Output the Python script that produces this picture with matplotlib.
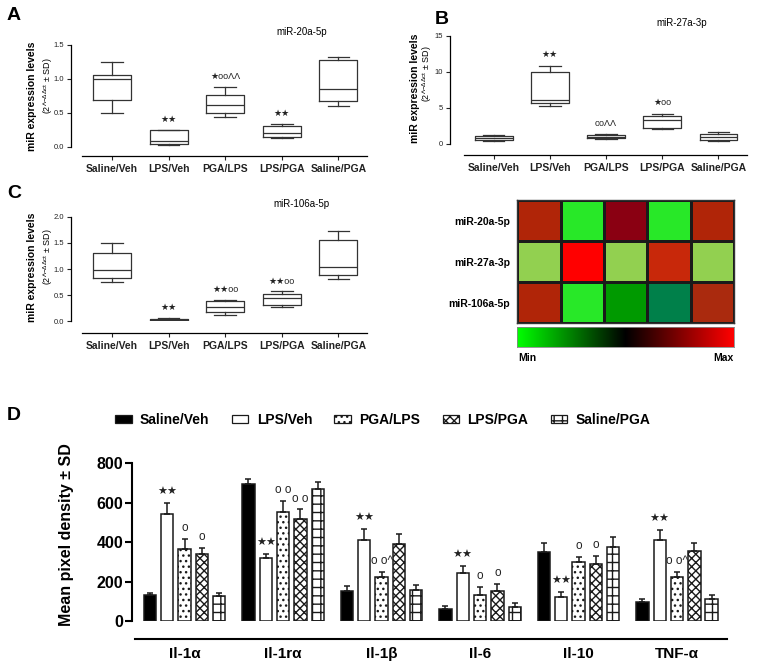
import numpy as np
import matplotlib.pyplot as plt
from matplotlib.colors import ListedColormap, LinearSegmentedColormap
from matplotlib.patches import Patch

plt.rcParams['font.family'] = ['Liberation Sans', 'DejaVu Sans']
plt.rcParams['mathtext.fontset'] = 'custom'
plt.rcParams['mathtext.rm'] = 'Liberation Sans'
plt.rcParams['mathtext.it'] = 'Liberation Sans'
plt.rcParams['hatch.linewidth'] = 1.0

# Grupos experimentais
grupos = ['Saline/Veh', 'LPS/Veh', 'PGA/LPS', 'LPS/PGA', 'Saline/PGA']

# miR-20a-5p (min, q1, mediana, q3, max)
mir20_min = [0.50, 0.02, 0.44, 0.13, 0.60]
mir20_q1 = [0.69, 0.04, 0.50, 0.15, 0.67]
mir20_med = [1.00, 0.08, 0.62, 0.20, 0.85]
mir20_q3 = [1.06, 0.24, 0.76, 0.30, 1.28]
mir20_max = [1.25, 0.25, 0.88, 0.34, 1.32]
mir20_sig = ['', '★★', '★ooΛΛ', '★★', '']

# miR-27a-3p
mir27_min = [0.45, 5.3, 0.65, 2.1, 0.45]
mir27_q1 = [0.55, 5.7, 0.80, 2.25, 0.50]
mir27_med = [0.85, 6.1, 0.97, 3.35, 1.00]
mir27_q3 = [1.15, 10.0, 1.20, 3.90, 1.40]
mir27_max = [1.25, 10.85, 1.40, 4.20, 1.70]
mir27_sig = ['', '★★', 'ooΛΛ', '★oo', '']

# miR-106a-5p
mir106_min = [0.75, 0.005, 0.13, 0.27, 0.80]
mir106_q1 = [0.83, 0.01, 0.17, 0.32, 0.89]
mir106_med = [0.99, 0.025, 0.27, 0.44, 1.03]
mir106_q3 = [1.31, 0.05, 0.38, 0.52, 1.55]
mir106_max = [1.50, 0.06, 0.41, 0.57, 1.73]
mir106_sig = ['', '★★', '★★oo', '★★oo', '']

# Heatmap (cores)
mirs = ['miR-20a-5p', 'miR-27a-3p', 'miR-106a-5p']
heat_cells = [
    ['#B02508', '#28E828', '#8A0012', '#28E828', '#B02508'],
    ['#92D050', '#FF0000', '#92D050', '#C8280A', '#92D050'],
    ['#B02508', '#28E828', '#009A00', '#00804A', '#AA2A0E'],
]

# Painel D - citocinas (media e SD)
citocinas = ['Il-1α', 'Il-1rα', 'Il-1β', 'Il-6', 'Il-10', 'TNF-α']
sal_veh = [130, 693, 150, 59, 352, 95]
sal_veh_sd = [10, 26, 26, 19, 42, 17]
lps_veh = [541, 318, 411, 245, 122, 411]
lps_veh_sd = [59, 24, 56, 34, 25, 51]
pga_lps = [365, 551, 225, 134, 301, 223]
pga_lps_sd = [51, 59, 24, 40, 22, 24]
lps_pga = [338, 517, 391, 150, 289, 355]
lps_pga_sd = [31, 49, 49, 36, 41, 39]
sal_pga = [128, 670, 156, 71, 374, 110]
sal_pga_sd = [16, 37, 28, 19, 54, 20]
sal_veh_sig = ['', '', '', '', '', '']
lps_veh_sig = ['★★', '★★', '★★', '★★', '★★', '★★']
pga_lps_sig = ['o', 'o o', 'o o^', 'o', 'o', 'o o^']
lps_pga_sig = ['o', 'o o', '', 'o', 'o', '']
sal_pga_sig = ['', '', '', '', '', '']

W, H = 760, 669
fig = plt.figure(figsize=(W / 100, H / 100), dpi=100)


def px_axes(x0, x1, y0, y1):
    # retangulo em pixels (topo = y0)
    return fig.add_axes([x0 / W, 1 - y1 / H, (x1 - x0) / W, (y1 - y0) / H])


def caixas(ax, mn, q1, med, q3, mx, sig, yticks, fmt, xl, xb, off, titulo):
    # spine deslocada primeiro (set_position apaga o estilo dos ticks)
    for s in ['top', 'right']:
        ax.spines[s].set_visible(False)
    ax.spines['left'].set_linewidth(0.9)
    ax.spines['bottom'].set_linewidth(0.9)
    ax.spines['bottom'].set_position(('outward', off))
    stats = [dict(whislo=a, q1=b, med=c, q3=d, whishi=e, fliers=[])
             for a, b, c, d, e in zip(mn, q1, med, q3, mx)]
    pos = np.arange(1, 6)
    lp = dict(color='#333333', lw=0.9)
    ax.bxp(stats, positions=pos, widths=0.67, capwidths=0.38, showfliers=False,
           boxprops=lp, whiskerprops=lp, capprops=lp, medianprops=lp,
           manage_ticks=False)
    ymax = yticks[-1]
    for p, m, s in zip(pos, mx, sig):
        if s:
            ax.text(p, m + 0.1 * ymax, s, ha='center', va='center', fontsize=6.5, color='#222222')
    ax.set_ylim(0, ymax)
    ax.set_xlim(xl, 5.505)
    ax.spines['bottom'].set_bounds(xb, 5.505)
    ax.set_yticks(yticks)
    ax.set_yticklabels([fmt.format(v) for v in yticks], fontsize=5.5)
    ax.set_xticks(pos)
    ax.set_xticklabels(grupos, fontsize=7.5, fontweight='bold')
    ax.tick_params(length=3, width=0.8, pad=2, colors='#222222')
    ax.tick_params(axis='x', pad=3)
    ax.text(0.78, 1.12, titulo, transform=ax.transAxes, ha='center', va='center', fontsize=7)


ylab1 = 'miR expression levels'
ylab2 = r'(2^$^{-\Delta\Delta ct}$ ± SD)'

# Painel A
axA = px_axes(71, 367, 44.7, 146.7)
caixas(axA, mir20_min, mir20_q1, mir20_med, mir20_q3, mir20_max, mir20_sig,
       [0, 0.5, 1.0, 1.5], '{:.1f}', 0.276, 0.47, 6.5, 'miR-20a-5p')
fig.text(32 / W, 1 - 96 / H, ylab1, rotation=90, ha='center', va='center', fontsize=7.5, fontweight='bold')
fig.text(48 / W, 1 - 86 / H, ylab2, rotation=90, ha='center', va='center', fontsize=6.5)

# Painel B
axB = px_axes(450, 746.7, 35.7, 144)
caixas(axB, mir27_min, mir27_q1, mir27_med, mir27_q3, mir27_max, mir27_sig,
       [0, 5, 10, 15], '{:d}', 0.221, 0.474, 8, 'miR-27a-3p')
fig.text(415 / W, 1 - 88 / H, ylab1, rotation=90, ha='center', va='center', fontsize=7.5, fontweight='bold')
fig.text(427.5 / W, 1 - 74 / H, ylab2, rotation=90, ha='center', va='center', fontsize=6.5)

# Painel C
axC = px_axes(71, 367, 216.7, 321.3)
caixas(axC, mir106_min, mir106_q1, mir106_med, mir106_q3, mir106_max, mir106_sig,
       [0, 0.5, 1.0, 1.5, 2.0], '{:.1f}', 0.276, 0.47, 8.2, 'miR-106a-5p')
fig.text(32 / W, 1 - 267 / H, ylab1, rotation=90, ha='center', va='center', fontsize=7.5, fontweight='bold')
fig.text(48 / W, 1 - 257 / H, ylab2, rotation=90, ha='center', va='center', fontsize=6.5)

# Heatmap
axH = px_axes(517.3, 734, 200, 323.3)
paleta = sorted(set(c for linha in heat_cells for c in linha))
idx = np.array([[paleta.index(c) for c in linha] for linha in heat_cells])
axH.pcolormesh(idx, cmap=ListedColormap(paleta), vmin=-0.5, vmax=len(paleta) - 0.5,
               edgecolors='#1a1a1a', linewidth=1.0)
axH.set_xlim(0, 5)
axH.set_ylim(3, 0)
axH.set_xticks([])
axH.set_yticks(np.arange(3) + 0.5)
axH.set_yticklabels(mirs, fontsize=7.5, fontweight='bold')
axH.tick_params(length=0, pad=5)
for s in axH.spines.values():
    s.set_color('#333333')
    s.set_linewidth(1.0)

axCb = px_axes(517.3, 734, 327.3, 347.3)
gkr = LinearSegmentedColormap.from_list('gkr', ['#00FF00', '#000000', '#FF0000'])
axCb.imshow(np.linspace(0, 1, 256)[None, :], cmap=gkr, aspect='auto')
axCb.set_xticks([])
axCb.set_yticks([])
for s in axCb.spines.values():
    s.set_color('#888888')
    s.set_linewidth(0.6)
fig.text(518 / W, 1 - 357.7 / H, 'Min', ha='left', va='center', fontsize=7.5, fontweight='bold')
fig.text(733 / W, 1 - 357.7 / H, 'Max', ha='right', va='center', fontsize=7.5, fontweight='bold')

# Painel D
axD = px_axes(131.7, 727, 463.3, 621)
for s in ['top', 'right']:
    axD.spines[s].set_visible(False)
axD.spines['left'].set_linewidth(1.5)
axD.spines['bottom'].set_linewidth(1.5)
axD.spines['bottom'].set_position(('outward', 13))

series = [
    ('Saline/Veh', sal_veh, sal_veh_sd, sal_veh_sig, 'black', ''),
    ('LPS/Veh', lps_veh, lps_veh_sd, lps_veh_sig, 'white', ''),
    ('PGA/LPS', pga_lps, pga_lps_sd, pga_lps_sig, 'white', '...'),
    ('LPS/PGA', lps_pga, lps_pga_sd, lps_pga_sig, 'white', 'xxxx'),
    ('Saline/PGA', sal_pga, sal_pga_sd, sal_pga_sig, 'white', '++'),
]
xg = np.arange(len(citocinas))
passo = 0.1756
handles = []
for j, (nome, vals, sd, sig, cor, hatch) in enumerate(series):
    xs = xg + (j - 2) * passo
    axD.bar(xs, vals, width=0.125, color=cor, edgecolor='#1a1a1a', linewidth=1.1, hatch=hatch,
            yerr=[np.zeros(len(vals)), sd], capsize=2.5,
            error_kw=dict(elinewidth=1.1, capthick=1.1, ecolor='#1a1a1a'), zorder=2)
    for x, v, e, s in zip(xs, vals, sd, sig):
        if s:
            fs = 8 if '★' in s else 8.5
            axD.text(x, v + e + 55, s, ha='center', va='center', fontsize=fs, color='#222222')
    handles.append(Patch(facecolor=cor, edgecolor='#1a1a1a', hatch=hatch, linewidth=0.9, label=nome))

axD.set_ylim(0, 800)
axD.set_xlim(-0.537, 5.507)
axD.spines['bottom'].set_bounds(-0.504, 5.507)
axD.set_yticks([0, 200, 400, 600, 800])
axD.set_yticklabels(['0', '200', '400', '600', '800'], fontsize=11.5, fontweight='bold')
axD.set_xticks(xg)
axD.set_xticklabels(citocinas, fontsize=11, fontweight='bold')
axD.tick_params(axis='y', length=5, width=1.5, pad=1)
axD.tick_params(axis='x', length=0, pad=6)
fig.text(66 / W, 1 - 535 / H, 'Mean pixel density ± SD', rotation=90, ha='center', va='center',
         fontsize=11.5, fontweight='bold')

fig.legend(handles=handles, loc='center left', bbox_to_anchor=(115 / W, 1 - 420 / H), ncol=5,
           frameon=False, prop=dict(weight='bold', size=10), handlelength=1.2, handleheight=0.55,
           handletextpad=0.6, columnspacing=1.6, borderpad=0, borderaxespad=0)

# Letras dos paineis
for letra, x, y in [('A', 7, 15), ('B', 435, 19), ('C', 7, 194), ('D', 7, 416)]:
    fig.text(x / W, 1 - y / H, letra, ha='left', va='center', fontsize=14, fontweight='bold')

fig.savefig('out.png', dpi=100)
